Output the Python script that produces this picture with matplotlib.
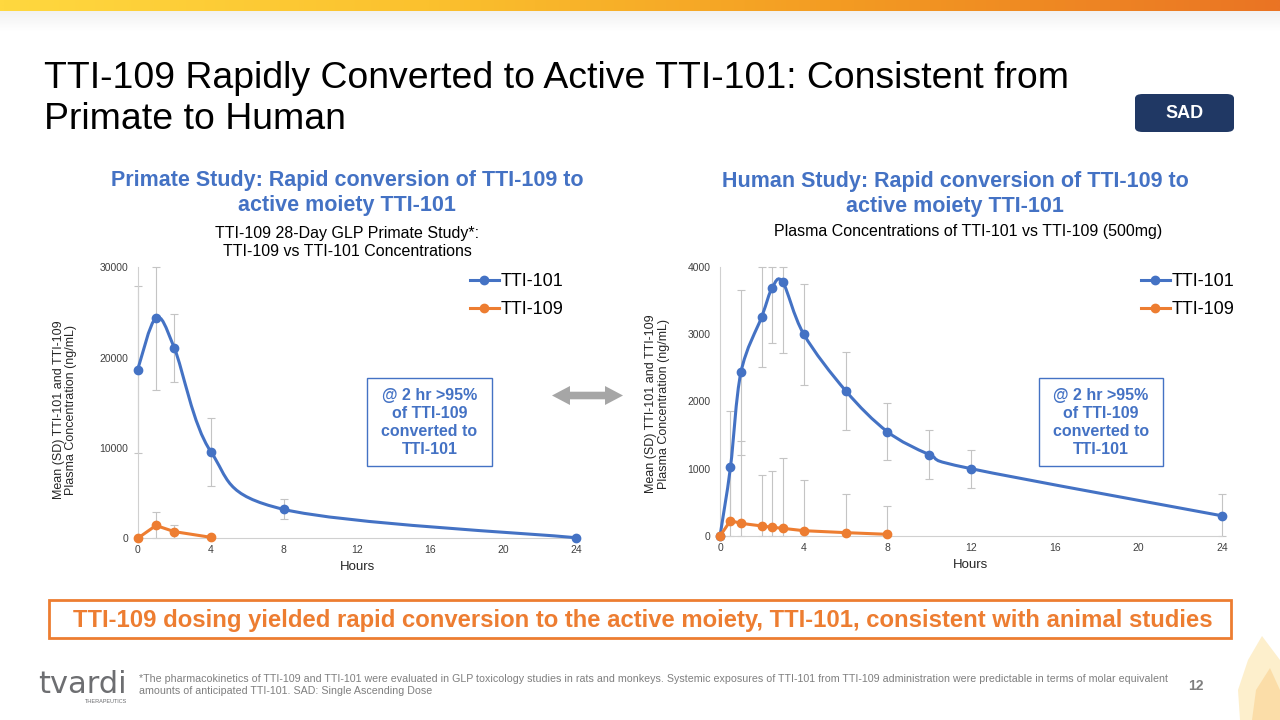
import numpy as np
import matplotlib
matplotlib.use("Agg")
import matplotlib.pyplot as plt
from matplotlib.path import Path
from matplotlib.patches import PathPatch, Rectangle, FancyBboxPatch, Polygon
from matplotlib.lines import Line2D
from matplotlib.colors import LinearSegmentedColormap

plt.rcParams["font.family"] = ["Liberation Sans", "DejaVu Sans"]

# ---- data ----
# primate study (28-day GLP)
primate_hours = [0, 1, 2, 4, 8, 24]
primate_tti101 = [18700, 24400, 21100, 9600, 3200, 60]
primate_tti101_sd = [9250, 7950, 3800, 3760, 1100, 0]
primate_hours_109 = [0, 1, 2, 4]
primate_tti109 = [0, 1420, 740, 110]
primate_tti109_sd = [0, 1470, 700, 0]

# human study (500 mg)
human_hours = [0, 0.5, 1, 2, 2.5, 3, 4, 6, 8, 10, 12, 24]
human_tti101 = [0, 1020, 2430, 3260, 3690, 3770, 3000, 2160, 1550, 1210, 1000, 300]
human_tti101_sd = [0, 830, 1230, 750, 830, 1050, 750, 580, 420, 370, 280, 330]
human_hours_109 = [0, 0.5, 1, 2, 2.5, 3, 4, 6, 8]
human_tti109 = [0, 228, 188, 149, 129, 114, 79, 50, 25]
human_tti109_sd = [0, 830, 1230, 750, 830, 1050, 750, 580, 420]

x_ticks = [0, 4, 8, 12, 16, 20, 24]
series_names = ["TTI-101", "TTI-109"]

BLUE = "#4472C4"
ORANGE = "#ED7D31"
GRAY = "#C4C4C4"

W, H = 1280, 720


def fx(px):
    return px / W


def fy(py):
    return 1 - py / H


def smooth_path(x, y):
    # Excel style smoothed line: bezier segments, tangents from neighbours / 6
    p = np.column_stack([x, y]).astype(float)
    n = len(p)
    verts = [p[0]]
    codes = [Path.MOVETO]
    for i in range(n - 1):
        prev = p[max(i - 1, 0)]
        nxt = p[min(i + 2, n - 1)]
        c1 = p[i] + (p[i + 1] - prev) / 6
        c2 = p[i + 1] - (nxt - p[i]) / 6
        verts += [c1, c2, p[i + 1]]
        codes += [Path.CURVE4] * 3
    return Path(verts, codes)


fig = plt.figure(figsize=(12.8, 7.2), dpi=100)

# top colour band
band = fig.add_axes([0, fy(11), 1, 11 / H])
grad = np.linspace(0, 1, 512).reshape(1, -1)
band_cmap = LinearSegmentedColormap.from_list("band", ["#FFD83F", "#FBC12E", "#F39A22", "#EA7424"])
band.imshow(grad, aspect="auto", cmap=band_cmap, extent=[0, 1, 0, 1])
band.axis("off")
shade = fig.add_axes([0, fy(32), 1, 21 / H])
sh = np.zeros((21, 2, 4))
sh[..., :3] = 0.85
sh[..., 3] = np.linspace(0.35, 0, 21).reshape(-1, 1)
shade.imshow(sh, aspect="auto", extent=[0, 1, 0, 1])
shade.axis("off")

# slide title
fig.text(fx(44), fy(88), "TTI-109 Rapidly Converted to Active TTI-101: Consistent from",
         fontsize=26.9, va="baseline", color="#000000")
fig.text(fx(44), fy(129), "Primate to Human", fontsize=26.9, va="baseline", color="#000000")

# SAD badge
fig.add_artist(FancyBboxPatch((fx(1135), fy(132)), 99 / W, 38 / H,
                              boxstyle="round,pad=0,rounding_size=0.006",
                              transform=fig.transFigure, fc="#203864", ec="none"))
fig.text(fx(1184.5), fy(113), "SAD", fontsize=13, fontweight="bold", color="white",
         ha="center", va="center")

# panel headings
fig.text(fx(347), fy(186), "Primate Study: Rapid conversion of TTI-109 to", fontsize=15.5,
         fontweight="bold", color=BLUE, ha="center", va="baseline")
fig.text(fx(347), fy(210.7), "active moiety TTI-101", fontsize=15.5,
         fontweight="bold", color=BLUE, ha="center", va="baseline")
fig.text(fx(347), fy(237.7), "TTI-109 28-Day GLP Primate Study*:", fontsize=11.5,
         ha="center", va="baseline")
fig.text(fx(347), fy(255.7), "TTI-109 vs TTI-101 Concentrations", fontsize=11.5,
         ha="center", va="baseline")

fig.text(fx(955), fy(186.7), "Human Study: Rapid conversion of TTI-109 to", fontsize=15.5,
         fontweight="bold", color=BLUE, ha="center", va="baseline")
fig.text(fx(955), fy(211.7), "active moiety TTI-101", fontsize=15.5,
         fontweight="bold", color=BLUE, ha="center", va="baseline")
fig.text(fx(968), fy(236), "Plasma Concentrations of TTI-101 vs TTI-109 (500mg)", fontsize=11.5,
         ha="center", va="baseline")


def sd_bars(ax, t, v, sd, ymax):
    v = np.asarray(v, float)
    sd = np.asarray(sd, float)
    # bars are cut at the plot floor and ceiling, as on the slide
    lower = np.minimum(sd, v)
    upper = np.minimum(sd, ymax - v)
    ax.errorbar(t, v, yerr=[lower, upper], fmt="none", ecolor=GRAY, elinewidth=0.8,
                capsize=3, capthick=0.8, zorder=1, clip_on=False)


def draw_chart(ax, t, a, a_sd, tb, b, b_sd, ymax, ystep, ylab_pos, legend_x):
    sd_bars(ax, t, a, a_sd, ymax)
    sd_bars(ax, tb, b, b_sd, ymax)
    ax.add_patch(PathPatch(smooth_path(t, a), fill=False, edgecolor=BLUE, lw=2.2,
                           zorder=3, clip_on=False))
    ax.plot(t, a, "o", color=BLUE, ms=6, zorder=4, clip_on=False)
    ax.plot(tb, b, "-o", color=ORANGE, lw=2.2, ms=6, zorder=4, clip_on=False)

    ax.set_xlim(0, 24)
    ax.set_ylim(0, ymax)
    ax.set_xticks(x_ticks)
    ax.set_yticks(np.arange(0, ymax + 1, ystep))
    for s in ["top", "right"]:
        ax.spines[s].set_visible(False)
    for s in ["left", "bottom"]:
        ax.spines[s].set_color("#D0D0D0")
        ax.spines[s].set_linewidth(0.8)
    ax.tick_params(axis="both", length=0, labelsize=7.5, colors="#404040")
    ax.tick_params(axis="y", pad=7)
    ax.tick_params(axis="x", pad=5)
    ax.set_xlabel("Hours", fontsize=9.5, color="#262626", labelpad=4)
    ax.set_ylabel("Mean (SD) TTI-101 and TTI-109\nPlasma Concentration (ng/mL)",
                  fontsize=9, color="#262626", linespacing=1.05)
    ax.yaxis.set_label_coords(*ylab_pos)

    handles = [Line2D([], [], color=BLUE, lw=2.2, marker="o", ms=6),
               Line2D([], [], color=ORANGE, lw=2.2, marker="o", ms=6)]
    ax.legend(handles, series_names, loc="upper left", bbox_to_anchor=(fx(legend_x), fy(273)),
              bbox_transform=fig.transFigure, frameon=False, fontsize=13, handlelength=1.6,
              handletextpad=0.1, labelspacing=0.62, borderaxespad=0, borderpad=0)


ax1 = fig.add_axes([fx(137.7), fy(538.3), 438.7 / W, 270.8 / H])
draw_chart(ax1, primate_hours, primate_tti101, primate_tti101_sd,
           primate_hours_109, primate_tti109, primate_tti109_sd,
           30000, 10000, (-0.138, 0.474), 470)

ax2 = fig.add_axes([fx(720), fy(536), 502 / W, 269.3 / H])
draw_chart(ax2, human_hours, human_tti101, human_tti101_sd,
           human_hours_109, human_tti109, human_tti109_sd,
           4000, 1000, (-0.1, 0.49), 1141)

# callout boxes
note = "@ 2 hr >95%\nof TTI-109\nconverted to\nTTI-101"
for x0, x1 in [(367.3, 491.7), (1039, 1163)]:
    fig.add_artist(Rectangle((fx(x0), fy(466)), (x1 - x0) / W, (466 - 378.3) / H,
                             transform=fig.transFigure, fc="white", ec=BLUE, lw=1, zorder=5))
    fig.text(fx((x0 + x1) / 2), fy(422.5), note, fontsize=11.5, fontweight="bold", color=BLUE,
             ha="center", va="center", linespacing=1.25, zorder=6)

# double arrow between panels
arrow_px = [(552, 395.5), (570, 386), (570, 391.7), (605, 391.7), (605, 386), (623, 395.5),
            (605, 405), (605, 399.3), (570, 399.3), (570, 405)]
fig.add_artist(Polygon([(fx(a), fy(b)) for a, b in arrow_px], closed=True,
                       transform=fig.transFigure, fc="#A6A6A6", ec="none"))

# take-away box
fig.add_artist(Rectangle((fx(49), fy(638)), (1231 - 49) / W, 38 / H,
                         transform=fig.transFigure, fc="white", ec=ORANGE, lw=2))
fig.text(fx(643), fy(627.5),
         "TTI-109 dosing yielded rapid conversion to the active moiety, TTI-101, consistent with animal studies",
         fontsize=17.2, fontweight="bold", color=ORANGE, ha="center", va="baseline")

# footer
fig.text(fx(139), fy(682),
         "*The pharmacokinetics of TTI-109 and TTI-101 were evaluated in GLP toxicology studies in rats and monkeys. "
         "Systemic exposures of TTI-101 from TTI-109 administration were predictable in terms of molar equivalent",
         fontsize=7.7, color="#7F7F7F", va="baseline")
fig.text(fx(139), fy(694), "amounts of anticipated TTI-101. SAD: Single Ascending Dose",
         fontsize=7.7, color="#7F7F7F", va="baseline")
fig.text(fx(38), fy(693), "tvardi", fontsize=22, color="#6D6E71", va="baseline",
         family=["DejaVu Sans"])
fig.text(fx(127), fy(703), "THERAPEUTICS", fontsize=4, color="#6D6E71", ha="right", va="baseline")
fig.text(fx(1196), fy(686), "12", fontsize=10, fontweight="bold", color="#7F7F7F",
         ha="center", va="center")

# pale flame decoration bottom right
flame_outer = [(1262, 636), (1248, 660), (1238, 690), (1240, 720), (1280, 720), (1280, 660)]
flame_inner = [(1270, 668), (1256, 690), (1252, 720), (1280, 720), (1280, 690)]
fig.add_artist(Polygon([(fx(a), fy(b)) for a, b in flame_outer], closed=True,
                       transform=fig.transFigure, fc="#FDEBC0", ec="none", alpha=0.8))
fig.add_artist(Polygon([(fx(a), fy(b)) for a, b in flame_inner], closed=True,
                       transform=fig.transFigure, fc="#FBD9A0", ec="none", alpha=0.8))

fig.savefig("out.png", dpi=100, facecolor="white")
